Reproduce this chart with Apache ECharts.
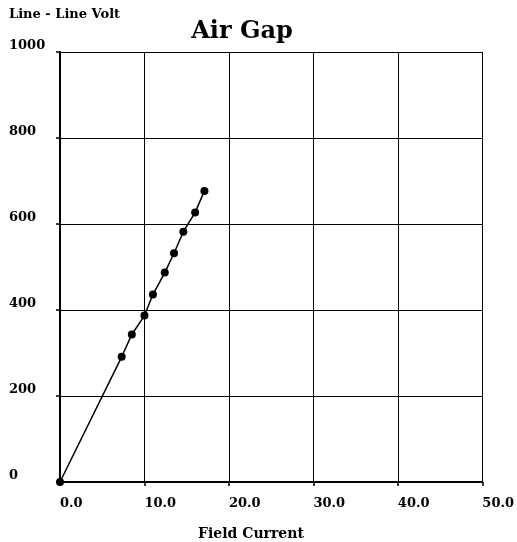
<!DOCTYPE html>
<html>
<head>
<meta charset="utf-8">
<script src="https://cdn.jsdelivr.net/npm/echarts@6/dist/echarts.min.js"></script>
<style>
html,body{margin:0;padding:0;background:#fff;}
#c{width:517px;height:542px;}
</style>
</head>
<body>
<div id="c"></div>
<script>
const fieldCurrent = [0, 7.3, 8.5, 10.0, 11.0, 12.4, 13.5, 14.6, 16.0, 17.1];
const lineVolt = [0, 291, 343, 387, 436, 487, 532, 582, 627, 677];
const xTicks = [0, 10, 20, 30, 40, 50];
const yTicks = [0, 200, 400, 600, 800, 1000];
const titleText = 'Air Gap';
const xName = 'Field Current';
const yName = 'Line - Line Volt';

const serif = '"DejaVu Serif", "Liberation Serif", serif';
const chart = echarts.init(document.getElementById('c'));
chart.setOption({
  backgroundColor: '#fff',
  animation: false,
  title: {
    text: titleText, left: 237, top: 15, textAlign: 'center',
    textStyle: {fontFamily: serif, fontWeight: 'bold', fontSize: 24, color: '#000'}
  },
  graphic: [{
    type: 'text', left: 9, top: 8,
    style: {text: yName, fontFamily: serif, fontWeight: 'bold', fontSize: 13, fill: '#000'}
  }, {
    type: 'text', x: 251, y: 534,
    style: {text: xName, fontFamily: serif, fontWeight: 'bold', fontSize: 14, fill: '#000',
            align: 'center', verticalAlign: 'middle'}
  }],
  grid: {left: 60, right: 29, top: 52, bottom: 60, containLabel: false},
  xAxis: {
    type: 'value', min: xTicks[0], max: xTicks[xTicks.length - 1], interval: 10,
    axisLine: {show: true, lineStyle: {color: '#000', width: 2}},
    axisTick: {show: true, length: 4, lineStyle: {color: '#000', width: 1.5}},
    splitLine: {show: true, lineStyle: {color: '#000', width: 1}},
    axisLabel: {
      fontFamily: serif, fontWeight: 'bold', fontSize: 13, color: '#000', margin: 15, align: 'left',
      formatter: v => v.toFixed(1)
    }
  },
  yAxis: {
    type: 'value', min: yTicks[0], max: yTicks[yTicks.length - 1], interval: 200,
    axisLine: {show: true, lineStyle: {color: '#000', width: 2}},
    axisTick: {show: true, length: 4, lineStyle: {color: '#000', width: 1.5}},
    splitLine: {show: true, lineStyle: {color: '#000', width: 1}},
    axisLabel: {
      fontFamily: serif, fontWeight: 'bold', fontSize: 13, color: '#000', margin: 51, align: 'left',
      verticalAlign: 'bottom', padding: [0, 0, 0, 0],
      formatter: v => String(v)
    }
  },
  series: [{
    type: 'line',
    data: fieldCurrent.map((x, i) => [x, lineVolt[i]]),
    symbol: 'circle', symbolSize: 8,
    itemStyle: {color: '#000'},
    lineStyle: {color: '#000', width: 1.5}
  }]
});
</script>
</body>
</html>
